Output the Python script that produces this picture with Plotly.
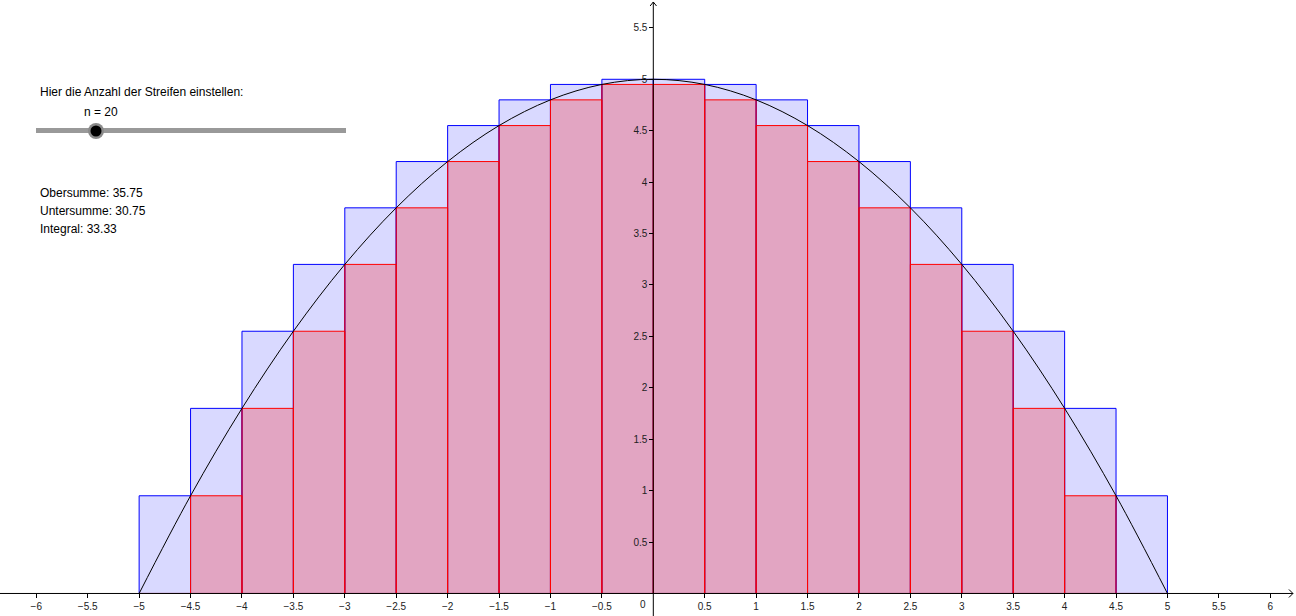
import plotly.graph_objects as go

# ---- data ----
strip_centers = [-4.75, -4.25, -3.75, -3.25, -2.75, -2.25, -1.75, -1.25, -0.75, -0.25,
                 0.25, 0.75, 1.25, 1.75, 2.25, 2.75, 3.25, 3.75, 4.25, 4.75]
strip_width = 0.5
upper_heights = [0.95, 1.8, 2.55, 3.2, 3.75, 4.2, 4.55, 4.8, 4.95, 5.0,
                 5.0, 4.95, 4.8, 4.55, 4.2, 3.75, 3.2, 2.55, 1.8, 0.95]
lower_heights = [0.0, 0.95, 1.8, 2.55, 3.2, 3.75, 4.2, 4.55, 4.8, 4.95,
                 4.95, 4.8, 4.55, 4.2, 3.75, 3.2, 2.55, 1.8, 0.95, 0.0]
curve_x = [-5, -4.5, -4, -3.5, -3, -2.5, -2, -1.5, -1, -0.5, 0,
           0.5, 1, 1.5, 2, 2.5, 3, 3.5, 4, 4.5, 5]
curve_y = [0, 0.95, 1.8, 2.55, 3.2, 3.75, 4.2, 4.55, 4.8, 4.95, 5,
           4.95, 4.8, 4.55, 4.2, 3.75, 3.2, 2.55, 1.8, 0.95, 0]
x_tick_vals = [-6, -5.5, -5, -4.5, -4, -3.5, -3, -2.5, -2, -1.5, -1, -0.5,
               0.5, 1, 1.5, 2, 2.5, 3, 3.5, 4, 4.5, 5, 5.5, 6]
x_tick_text = ["\u22126", "\u22125.5", "\u22125", "\u22124.5", "\u22124", "\u22123.5",
               "\u22123", "\u22122.5", "\u22122", "\u22121.5", "\u22121", "\u22120.5",
               "0.5", "1", "1.5", "2", "2.5", "3", "3.5", "4", "4.5", "5", "5.5", "6"]
y_tick_vals = [0.5, 1, 1.5, 2, 2.5, 3, 3.5, 4, 4.5, 5, 5.5]
y_tick_text = ["0.5", "1", "1.5", "2", "2.5", "3", "3.5", "4", "4.5", "5", "5.5"]
n_strips = 20
obersumme = 35.75
untersumme = 30.75
integral = 33.33

W, H = 1296, 616
X_RANGE = [-6.353, 6.250]
Y_RANGE = [-0.219, 5.771]
SCALE = 102.84  # px per unit (both axes)


def px(x, y):
    return x / W, 1 - y / H


fig = go.Figure()
fig.add_trace(go.Bar(
    x=strip_centers, y=upper_heights, width=strip_width,
    marker=dict(color="rgba(0,0,255,0.15)", line=dict(color="#0000ff", width=1)),
    hoverinfo="skip", name="Obersumme"))
fig.add_trace(go.Bar(
    x=strip_centers, y=lower_heights, width=strip_width,
    marker=dict(color="rgba(255,0,0,0.24)", line=dict(color="#ff0000", width=1)),
    hoverinfo="skip", name="Untersumme"))
fig.add_trace(go.Scatter(
    x=curve_x, y=curve_y, mode="lines",
    line=dict(color="black", width=1, shape="spline"),
    hoverinfo="skip", name="f"))

font = "Liberation Sans, Arial, sans-serif"
x_axis_pos = (0 - Y_RANGE[0]) / (Y_RANGE[1] - Y_RANGE[0])
y_axis_pos = (0 - X_RANGE[0]) / (X_RANGE[1] - X_RANGE[0])

fig.update_layout(
    width=W, height=H, margin=dict(l=0, r=0, t=0, b=0),
    paper_bgcolor="white", plot_bgcolor="white",
    barmode="overlay", showlegend=False,
    font=dict(family=font, color="black"),
    xaxis=dict(range=X_RANGE, showgrid=False, zeroline=False, showline=False,
               anchor="free", position=x_axis_pos,
               tickmode="array", tickvals=x_tick_vals, ticktext=x_tick_text,
               ticks="outside", ticklen=4, tickcolor="black", tickwidth=1,
               tickfont=dict(size=10, color="#222", family=font),
               fixedrange=True),
    yaxis=dict(range=Y_RANGE, showgrid=False, zeroline=False, showline=False,
               anchor="free", position=y_axis_pos,
               tickmode="array", tickvals=y_tick_vals, ticktext=y_tick_text,
               ticks="outside", ticklen=4, tickcolor="black", tickwidth=1,
               tickfont=dict(size=10, color="#222", family=font),
               fixedrange=True),
)

# axis lines with open arrow heads
x_tip = (1293 - 653.3) / SCALE
y_tip = (593.5 - 2) / SCALE
a = 4 / SCALE
shapes = [
    dict(type="line", xref="x", yref="y", x0=X_RANGE[0], y0=0, x1=x_tip, y1=0,
         line=dict(color="black", width=1), layer="above"),
    dict(type="line", xref="x", yref="y", x0=0, y0=Y_RANGE[0], x1=0, y1=y_tip,
         line=dict(color="black", width=1), layer="above"),
    dict(type="path", xref="x", yref="y",
         path=f"M {x_tip - a},{a} L {x_tip},0 L {x_tip - a},{-a}",
         line=dict(color="black", width=1), layer="above"),
    dict(type="path", xref="x", yref="y",
         path=f"M {-a * 0.8},{y_tip - a} L 0,{y_tip} L {a * 0.8},{y_tip - a}",
         line=dict(color="black", width=1), layer="above"),
]

# slider
sx0, sy0 = px(36, 130.5)
sx1, _ = px(346, 130.5)
shapes.append(dict(type="line", xref="paper", yref="paper", x0=sx0, y0=sy0, x1=sx1, y1=sy0,
                   line=dict(color="#999999", width=5)))
kx0, ky0 = px(88, 139)
kx1, ky1 = px(104, 123)
shapes.append(dict(type="circle", xref="paper", yref="paper", x0=kx0, y0=ky0, x1=kx1, y1=ky1,
                   fillcolor="#8a8a8a", line=dict(width=0)))
kx0, ky0 = px(90.5, 136.5)
kx1, ky1 = px(101.5, 125.5)
shapes.append(dict(type="circle", xref="paper", yref="paper", x0=kx0, y0=ky0, x1=kx1, y1=ky1,
                   fillcolor="black", line=dict(width=0)))
fig.update_layout(shapes=shapes)

annotations = []


def label(text, x, y, size=12, xanchor="left"):
    ax, ay = px(x, y)
    annotations.append(dict(text=text, x=ax, y=ay, xref="paper", yref="paper",
                            xanchor=xanchor, yanchor="middle", showarrow=False,
                            font=dict(size=size, family=font, color="black")))


label("Hier die Anzahl der Streifen einstellen:", 38, 92)
label(f"n = {n_strips}", 101, 112, xanchor="center")
label(f"Obersumme: {obersumme:.2f}", 38, 192.5)
label(f"Untersumme: {untersumme:.2f}", 38, 210.5)
label(f"Integral: {integral:.2f}", 38, 228.5)
# origin label
annotations.append(dict(text="0", x=-0.1, y=0, xref="x", yref="y", xanchor="center",
                        yanchor="top", yshift=-4, showarrow=False,
                        font=dict(size=10, family=font, color="#222")))
fig.update_layout(annotations=annotations)

fig.write_html("out.html", config={"displayModeBar": False})
